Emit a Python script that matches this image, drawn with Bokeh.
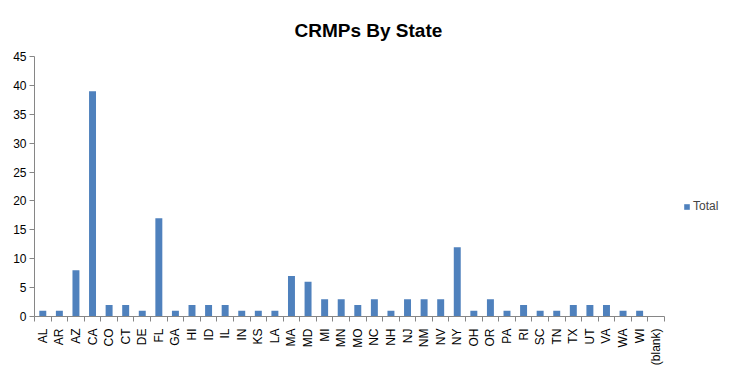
import math
import numpy as np
from bokeh.plotting import figure
from bokeh.models import (Range1d, FixedTicker, LinearAxis, Legend, LegendItem)
from bokeh.embed import file_html
from bokeh.resources import INLINE

states = ["AL", "AR", "AZ", "CA", "CO", "CT", "DE", "FL", "GA", "HI", "ID", "IL", "IN",
          "KS", "LA", "MA", "MD", "MI", "MN", "MO", "NC", "NH", "NJ", "NM", "NV", "NY",
          "OH", "OR", "PA", "RI", "SC", "TN", "TX", "UT", "VA", "WA", "WI", "(blank)"]
totals = [1, 1, 8, 39, 2, 2, 1, 17, 1, 2, 2, 2, 1,
          1, 1, 7, 6, 3, 3, 2, 3, 1, 3, 3, 3, 12,
          1, 3, 1, 2, 1, 1, 2, 2, 2, 1, 1, 0]
y_ticks = [0, 5, 10, 15, 20, 25, 30, 35, 40, 45]
series_name = "Total"
chart_title = "CRMPs By State"

FONT = "Liberation Sans"
GRID = "#868686"
BAR = "#4F81BD"

n = len(states)
centers = [i + 0.5 for i in range(n)]
bounds = [float(i) for i in range(n + 1)]

p = figure(frame_width=630, frame_height=260, output_backend="svg", toolbar_location=None,
           x_range=Range1d(0, n), y_range=Range1d(y_ticks[0], y_ticks[-1]),
           x_axis_type=None, y_axis_type=None,
           min_border_left=34, min_border_right=57, min_border_top=56, min_border_bottom=44)
p.outline_line_color = None
p.background_fill_color = "white"
p.border_fill_color = "white"

# y axis
yax = LinearAxis(ticker=FixedTicker(ticks=y_ticks))
yax.axis_line_color = GRID
yax.major_tick_line_color = GRID
yax.major_tick_out = 5
yax.major_tick_in = 0
yax.minor_tick_line_color = None
yax.major_label_text_font = FONT
yax.major_label_text_font_size = "12px"
yax.major_label_text_color = "#000000"
yax.major_label_standoff = 3
p.add_layout(yax, "left")

# x axis
xax = LinearAxis(ticker=FixedTicker(ticks=centers, minor_ticks=bounds))
xax.axis_line_color = GRID
xax.major_tick_line_color = None
xax.major_tick_out = 0
xax.major_tick_in = 0
xax.minor_tick_line_color = GRID
xax.minor_tick_out = 5
xax.minor_tick_in = 0
xax.major_label_overrides = {c: s for c, s in zip(centers, states)}
xax.major_label_orientation = math.pi / 2
xax.major_label_text_font = FONT
xax.major_label_text_font_size = "12px"
xax.major_label_text_color = "#000000"
xax.major_label_standoff = 7
p.add_layout(xax, "below")

p.ygrid.grid_line_color = GRID
p.ygrid.ticker = FixedTicker(ticks=y_ticks)
p.xgrid.grid_line_color = None

r = p.vbar(x=centers, top=totals, width=0.42, bottom=0, fill_color=BAR, line_color=None)

legend = Legend(items=[LegendItem(label=series_name, renderers=[r])],
                location=(19, 103), border_line_color=None, background_fill_alpha=0,
                glyph_width=7, glyph_height=7, label_text_font=FONT,
                label_text_font_size="12px", label_standoff=3, padding=4, margin=0)
p.add_layout(legend, "right")

p.title.text = chart_title
p.title.text_font = FONT
p.title.text_font_size = "19px"
p.title.text_font_style = "bold"
p.title.text_color = "#000000"
p.title.align = "left"
p.title.offset = 260
p.title.standoff = 28
p.title.vertical_align = "top"

open("out.html", "w").write(file_html(p, INLINE))
